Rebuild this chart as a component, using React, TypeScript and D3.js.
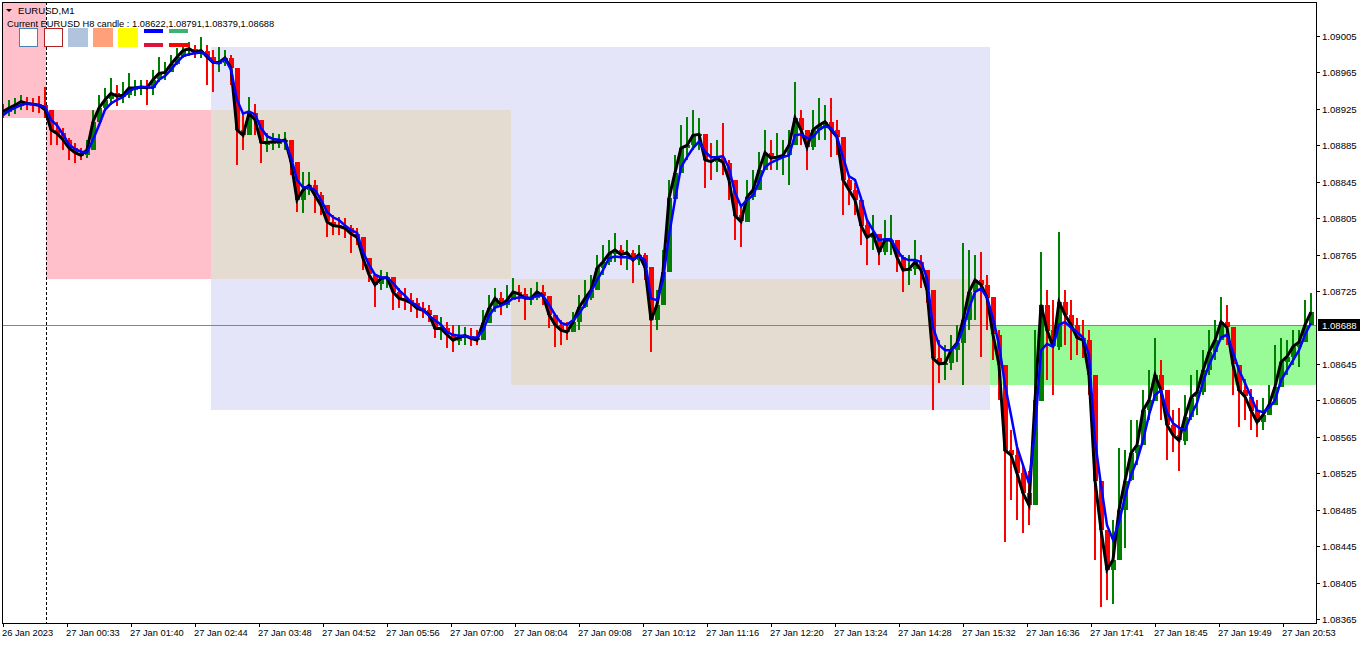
import React, { useEffect, useRef } from 'react';
import * as d3 from 'd3';

const closes = [
  1.08922, 1.08926, 1.08929, 1.08933, 1.08931, 1.08930, 1.08929, 1.08924, 1.08902, 1.08898,
  1.08891, 1.08882, 1.08877, 1.08874, 1.08880, 1.08911, 1.08926, 1.08935, 1.08942, 1.08939,
  1.08940, 1.08948, 1.08948, 1.08949, 1.08948, 1.08957, 1.08964, 1.08965, 1.08974, 1.08982,
  1.08989, 1.08991, 1.08987, 1.08989, 1.08982, 1.08976, 1.08976, 1.08981, 1.08970, 1.08902,
  1.08896, 1.08920, 1.08913, 1.08888, 1.08888, 1.08889, 1.08889, 1.08891, 1.08867, 1.08825,
  1.08836, 1.08841, 1.08830, 1.08819, 1.08801, 1.08797, 1.08796, 1.08794, 1.08788, 1.08784,
  1.08761, 1.08743, 1.08732, 1.08739, 1.08740, 1.08724, 1.08717, 1.08715, 1.08712, 1.08706,
  1.08704, 1.08699, 1.08684, 1.08684, 1.08677, 1.08671, 1.08674, 1.08676, 1.08673, 1.08671,
  1.08690, 1.08706, 1.08717, 1.08710, 1.08715, 1.08724, 1.08722, 1.08717, 1.08717, 1.08724,
  1.08720, 1.08699, 1.08688, 1.08682, 1.08680, 1.08691, 1.08707, 1.08717, 1.08726, 1.08750,
  1.08757, 1.08766, 1.08770, 1.08765, 1.08767, 1.08759, 1.08765, 1.08751, 1.08693, 1.08710,
  1.08746, 1.08827, 1.08855, 1.08882, 1.08885, 1.08896, 1.08897, 1.08869, 1.08867, 1.08871,
  1.08866, 1.08847, 1.08808, 1.08801, 1.08828, 1.08836, 1.08858, 1.08877, 1.08871, 1.08872,
  1.08874, 1.08885, 1.08915, 1.08902, 1.08883, 1.08902, 1.08907, 1.08911, 1.08902, 1.08894,
  1.08847, 1.08836, 1.08825, 1.08797, 1.08784, 1.08788, 1.08768, 1.08781, 1.08781, 1.08762,
  1.08748, 1.08749, 1.08757, 1.08748, 1.08726, 1.08651, 1.08645, 1.08646, 1.08660, 1.08668,
  1.08693, 1.08724, 1.08737, 1.08732, 1.08718, 1.08677, 1.08644, 1.08550, 1.08545, 1.08525,
  1.08503, 1.08490, 1.08605, 1.08710, 1.08682, 1.08664, 1.08713, 1.08699, 1.08688, 1.08674,
  1.08671, 1.08633, 1.08517, 1.08463, 1.08419, 1.08430, 1.08485, 1.08517, 1.08547, 1.08556,
  1.08594, 1.08605, 1.08633, 1.08616, 1.08578, 1.08567, 1.08561, 1.08587, 1.08608, 1.08614,
  1.08638, 1.08658, 1.08671, 1.08691, 1.08685, 1.08644, 1.08616, 1.08609, 1.08594, 1.08581,
  1.08589, 1.08600, 1.08620, 1.08647, 1.08653, 1.08664, 1.08669, 1.08688, 1.08702,
];

const highs = [
  1.08930, 1.08935, 1.08937, 1.08940, 1.08938, 1.08937, 1.08939, 1.08949, 1.08924, 1.08911,
  1.08904, 1.08893, 1.08888, 1.08882, 1.08891, 1.08924, 1.08940, 1.08948, 1.08959, 1.08951,
  1.08954, 1.08964, 1.08957, 1.08957, 1.08957, 1.08968, 1.08982, 1.08976, 1.08984, 1.08992,
  1.08995, 1.08998, 1.08995, 1.09004, 1.08995, 1.08990, 1.08993, 1.08990, 1.08984, 1.08957,
  1.08922, 1.08938, 1.08930, 1.08907, 1.08898, 1.08898, 1.08897, 1.08900, 1.08882, 1.08841,
  1.08856, 1.08856, 1.08847, 1.08834, 1.08814, 1.08808, 1.08806, 1.08805, 1.08797, 1.08794,
  1.08776, 1.08757, 1.08743, 1.08748, 1.08746, 1.08737, 1.08728, 1.08728, 1.08723, 1.08717,
  1.08713, 1.08710, 1.08696, 1.08696, 1.08691, 1.08688, 1.08688, 1.08685, 1.08684, 1.08682,
  1.08704, 1.08721, 1.08728, 1.08724, 1.08732, 1.08739, 1.08732, 1.08728, 1.08728, 1.08735,
  1.08732, 1.08715, 1.08695, 1.08693, 1.08691, 1.08702, 1.08721, 1.08737, 1.08743, 1.08765,
  1.08776, 1.08781, 1.08789, 1.08776, 1.08781, 1.08770, 1.08776, 1.08767, 1.08715, 1.08726,
  1.08770, 1.08847, 1.08874, 1.08907, 1.08916, 1.08924, 1.08915, 1.08891, 1.08888, 1.08891,
  1.08909, 1.08869, 1.08830, 1.08819, 1.08847, 1.08858, 1.08878, 1.08902, 1.08891, 1.08898,
  1.08891, 1.08902, 1.08954, 1.08924, 1.08902, 1.08924, 1.08937, 1.08929, 1.08937, 1.08913,
  1.08869, 1.08852, 1.08844, 1.08819, 1.08803, 1.08808, 1.08786, 1.08803, 1.08808, 1.08781,
  1.08765, 1.08765, 1.08781, 1.08765, 1.08748, 1.08693, 1.08671, 1.08666, 1.08677, 1.08688,
  1.08778, 1.08770, 1.08765, 1.08768, 1.08743, 1.08715, 1.08682, 1.08616, 1.08572, 1.08556,
  1.08534, 1.08528, 1.08682, 1.08768, 1.08726, 1.08715, 1.08790, 1.08726, 1.08715, 1.08695,
  1.08693, 1.08682, 1.08554, 1.08496, 1.08463, 1.08474, 1.08553, 1.08550, 1.08583, 1.08583,
  1.08616, 1.08638, 1.08674, 1.08649, 1.08611, 1.08594, 1.08597, 1.08611, 1.08633, 1.08638,
  1.08660, 1.08682, 1.08693, 1.08718, 1.08710, 1.08671, 1.08644, 1.08629, 1.08618, 1.08605,
  1.08608, 1.08622, 1.08666, 1.08674, 1.08671, 1.08682, 1.08682, 1.08715, 1.08723,
];

const lows = [
  1.08915, 1.08917, 1.08919, 1.08924, 1.08924, 1.08922, 1.08920, 1.08915, 1.08885, 1.08885,
  1.08880, 1.08869, 1.08866, 1.08869, 1.08871, 1.08896, 1.08913, 1.08924, 1.08929, 1.08928,
  1.08931, 1.08937, 1.08939, 1.08940, 1.08929, 1.08940, 1.08954, 1.08957, 1.08965, 1.08973,
  1.08981, 1.08983, 1.08981, 1.08981, 1.08951, 1.08944, 1.08965, 1.08972, 1.08951, 1.08863,
  1.08880, 1.08907, 1.08896, 1.08866, 1.08878, 1.08880, 1.08882, 1.08880, 1.08852, 1.08812,
  1.08811, 1.08830, 1.08811, 1.08808, 1.08784, 1.08786, 1.08786, 1.08783, 1.08767, 1.08776,
  1.08748, 1.08735, 1.08707, 1.08726, 1.08728, 1.08704, 1.08706, 1.08704, 1.08702, 1.08695,
  1.08695, 1.08691, 1.08673, 1.08671, 1.08662, 1.08658, 1.08666, 1.08666, 1.08665, 1.08666,
  1.08677, 1.08693, 1.08702, 1.08699, 1.08706, 1.08715, 1.08713, 1.08693, 1.08710, 1.08715,
  1.08710, 1.08684, 1.08664, 1.08666, 1.08671, 1.08682, 1.08682, 1.08706, 1.08715, 1.08735,
  1.08743, 1.08754, 1.08757, 1.08754, 1.08748, 1.08734, 1.08754, 1.08737, 1.08658, 1.08682,
  1.08726, 1.08797, 1.08836, 1.08863, 1.08869, 1.08880, 1.08880, 1.08838, 1.08847, 1.08856,
  1.08852, 1.08825, 1.08781, 1.08773, 1.08808, 1.08825, 1.08841, 1.08858, 1.08858, 1.08858,
  1.08852, 1.08841, 1.08896, 1.08885, 1.08858, 1.08880, 1.08891, 1.08891, 1.08872, 1.08874,
  1.08808, 1.08819, 1.08808, 1.08776, 1.08754, 1.08770, 1.08754, 1.08765, 1.08765, 1.08746,
  1.08724, 1.08732, 1.08743, 1.08728, 1.08712, 1.08594, 1.08624, 1.08627, 1.08638, 1.08647,
  1.08622, 1.08682, 1.08693, 1.08653, 1.08682, 1.08649, 1.08605, 1.08449, 1.08496, 1.08474,
  1.08459, 1.08468, 1.08539, 1.08649, 1.08627, 1.08611, 1.08660, 1.08666, 1.08649, 1.08655,
  1.08651, 1.08611, 1.08430, 1.08378, 1.08386, 1.08382, 1.08430, 1.08443, 1.08523, 1.08534,
  1.08561, 1.08583, 1.08605, 1.08583, 1.08539, 1.08548, 1.08528, 1.08556, 1.08583, 1.08589,
  1.08611, 1.08633, 1.08649, 1.08671, 1.08666, 1.08611, 1.08576, 1.08583, 1.08572, 1.08565,
  1.08572, 1.08589, 1.08605, 1.08633, 1.08633, 1.08644, 1.08642, 1.08671, 1.08688,
];

// slower moving average (blue line)
const slowMa = [
  1.08918, 1.08923, 1.08926, 1.08929, 1.08931, 1.08930, 1.08929, 1.08927, 1.08913, 1.08907,
  1.08897, 1.08886, 1.08881, 1.08878, 1.08877, 1.08891, 1.08907, 1.08924, 1.08931, 1.08935,
  1.08938, 1.08944, 1.08948, 1.08949, 1.08949, 1.08948, 1.08957, 1.08961, 1.08968, 1.08976,
  1.08983, 1.08985, 1.08986, 1.08987, 1.08984, 1.08976, 1.08975, 1.08980, 1.08968, 1.08935,
  1.08920, 1.08922, 1.08919, 1.08904, 1.08895, 1.08892, 1.08891, 1.08889, 1.08872, 1.08847,
  1.08839, 1.08839, 1.08836, 1.08825, 1.08812, 1.08806, 1.08803, 1.08797, 1.08792, 1.08789,
  1.08768, 1.08754, 1.08743, 1.08740, 1.08740, 1.08734, 1.08726, 1.08720, 1.08713, 1.08709,
  1.08704, 1.08698, 1.08693, 1.08688, 1.08680, 1.08677, 1.08676, 1.08676, 1.08674, 1.08674,
  1.08682, 1.08698, 1.08707, 1.08709, 1.08712, 1.08717, 1.08718, 1.08718, 1.08717, 1.08720,
  1.08720, 1.08710, 1.08699, 1.08690, 1.08688, 1.08693, 1.08700, 1.08710, 1.08724, 1.08737,
  1.08748, 1.08761, 1.08763, 1.08762, 1.08762, 1.08760, 1.08763, 1.08759, 1.08717, 1.08715,
  1.08737, 1.08786, 1.08825, 1.08861, 1.08872, 1.08882, 1.08889, 1.08878, 1.08872, 1.08872,
  1.08873, 1.08860, 1.08833, 1.08818, 1.08825, 1.08830, 1.08845, 1.08861, 1.08866, 1.08869,
  1.08872, 1.08874, 1.08896, 1.08897, 1.08893, 1.08894, 1.08902, 1.08906, 1.08904, 1.08894,
  1.08872, 1.08851, 1.08847, 1.08827, 1.08803, 1.08792, 1.08781, 1.08782, 1.08782, 1.08770,
  1.08761, 1.08759, 1.08759, 1.08757, 1.08739, 1.08685, 1.08666, 1.08660, 1.08660, 1.08666,
  1.08684, 1.08706, 1.08724, 1.08728, 1.08718, 1.08695, 1.08666, 1.08622, 1.08589, 1.08554,
  1.08534, 1.08514, 1.08572, 1.08660, 1.08667, 1.08664, 1.08688, 1.08691, 1.08685, 1.08680,
  1.08674, 1.08655, 1.08561, 1.08512, 1.08468, 1.08452, 1.08471, 1.08499, 1.08523, 1.08539,
  1.08561, 1.08589, 1.08611, 1.08616, 1.08592, 1.08580, 1.08575, 1.08572, 1.08589, 1.08602,
  1.08625, 1.08644, 1.08658, 1.08674, 1.08677, 1.08658, 1.08638, 1.08624, 1.08609, 1.08594,
  1.08592, 1.08597, 1.08605, 1.08627, 1.08638, 1.08649, 1.08660, 1.08677, 1.08690,
];

const barStep = 6; // bars between samples
const lastBar = 1313;

const timeLabels = [
  '26 Jan 2023', '27 Jan 00:33', '27 Jan 01:40', '27 Jan 02:44', '27 Jan 03:48', '27 Jan 04:52',
  '27 Jan 05:56', '27 Jan 07:00', '27 Jan 08:04', '27 Jan 09:08', '27 Jan 10:12', '27 Jan 11:16',
  '27 Jan 12:20', '27 Jan 13:24', '27 Jan 14:28', '27 Jan 15:32', '27 Jan 16:36', '27 Jan 17:41',
  '27 Jan 18:45', '27 Jan 19:49', '27 Jan 20:53',
];
const timeLabelBars = [0, 64, 128, 192, 256, 320, 384, 448, 512, 576, 640, 704, 768, 832, 896, 960, 1024, 1088, 1152, 1216, 1280];

const priceTicks = [
  1.09005, 1.08965, 1.08925, 1.08885, 1.08845, 1.08805, 1.08765, 1.08725,
  1.08645, 1.08605, 1.08565, 1.08525, 1.08485, 1.08445, 1.08405, 1.08365,
];

const currentPrice = 1.08688;
const h8Values = [1.08622, 1.08791, 1.08379, 1.08688];
const daySeparatorBar = 43;

// H8 candle boxes drawn by the indicator
const boxKinds = ['bear', 'range', 'body', 'body', 'bull', 'bear'];
const boxFrom = [-5, 208, 208, 508, 987, 43];
const boxTo = [43, 987, 508, 987, 1320, 208];
const boxHigh = [1.09060, 1.08993, 1.08924, 1.08738, 1.08688, 1.08924];
const boxLow = [1.08915, 1.08594, 1.08738, 1.08622, 1.08622, 1.08738];

const boxColors: Record<string, string> = {
  bear: '#ffc0cb',
  range: '#e4e5f9',
  body: '#e5dcd1',
  bull: '#98fb98',
};

const App: React.FC = () => {
  const svgRef = useRef<SVGSVGElement>(null);

  useEffect(() => {
    if (!svgRef.current) return;
    const width = 1362;
    const height = 645;
    const left = 2, top = 2, right = 1316, bottom = 623;

    const svg = d3.select(svgRef.current);
    svg.selectAll('*').remove();
    svg.attr('width', width).attr('height', height);

    svg.append('rect').attr('width', width).attr('height', height).attr('fill', '#ffffff');

    const x = d3.scaleLinear().domain([0, lastBar]).range([3, 1316]);
    const y = d3.scaleLinear().domain([1.08365, 1.09005]).range([619, 36]);

    svg.append('clipPath').attr('id', 'plot-clip')
      .append('rect').attr('x', left).attr('y', top).attr('width', right - left).attr('height', bottom - top);

    const plot = svg.append('g').attr('clip-path', 'url(#plot-clip)');

    // boxes
    const boxes = boxKinds.map((k, i) => ({ k, from: boxFrom[i], to: boxTo[i], hi: boxHigh[i], lo: boxLow[i] }));
    plot.selectAll('rect.box').data(boxes).join('rect')
      .attr('class', 'box')
      .attr('x', d => Math.round(x(d.from)))
      .attr('y', d => Math.round(y(d.hi)))
      .attr('width', d => Math.round(x(d.to)) - Math.round(x(d.from)))
      .attr('height', d => Math.round(y(d.lo)) - Math.round(y(d.hi)))
      .attr('fill', d => boxColors[d.k]);

    // current price line
    const py = Math.round(y(currentPrice)) + 0.5;
    plot.append('line')
      .attr('x1', left).attr('x2', right).attr('y1', py).attr('y2', py)
      .attr('stroke', '#778899').attr('stroke-width', 1);

    // day separator
    const sx = Math.round(x(daySeparatorBar)) + 0.5;
    plot.append('line')
      .attr('x1', sx).attr('x2', sx).attr('y1', top).attr('y2', bottom)
      .attr('stroke', '#000').attr('stroke-width', 1).attr('stroke-dasharray', '3,2');

    // candles
    const candles = closes.map((c, i) => ({
      bar: i * barStep,
      open: i > 0 ? closes[i - 1] : c,
      close: c,
      high: highs[i],
      low: lows[i],
    }));
    const colorOf = (d: { open: number; close: number }) => (d.close >= d.open ? '#008000' : '#ff0000');
    const cg = plot.append('g').attr('shape-rendering', 'crispEdges');
    cg.selectAll('rect.wick').data(candles).join('rect')
      .attr('class', 'wick')
      .attr('x', d => Math.round(x(d.bar)) - 1)
      .attr('width', 2)
      .attr('y', d => Math.round(y(Math.max(d.high, d.open, d.close))))
      .attr('height', d => Math.round(y(Math.min(d.low, d.open, d.close))) - Math.round(y(Math.max(d.high, d.open, d.close))))
      .attr('fill', colorOf);
    cg.selectAll('rect.body').data(candles).join('rect')
      .attr('class', 'body')
      .attr('x', d => Math.round(x(d.bar)) - 2)
      .attr('width', 5)
      .attr('y', d => Math.round(y(Math.max(d.open, d.close))))
      .attr('height', d => Math.max(2, Math.round(Math.abs(y(d.open) - y(d.close)))))
      .attr('fill', colorOf);

    // moving averages
    const line = d3.line<number>()
      .x((_, i) => x(i * barStep))
      .y(d => y(d));
    plot.append('path').datum(closes)
      .attr('d', line).attr('fill', 'none').attr('stroke', '#000000').attr('stroke-width', 3);
    plot.append('path').datum(slowMa)
      .attr('d', line).attr('fill', 'none').attr('stroke', '#0000ff').attr('stroke-width', 2.5);

    // frame
    svg.append('rect')
      .attr('x', left + 0.5).attr('y', top + 0.5)
      .attr('width', right - left).attr('height', bottom - top)
      .attr('fill', 'none').attr('stroke', '#000').attr('stroke-width', 1);

    const font = '"Liberation Sans", Arial, sans-serif';

    // price axis
    const ya = svg.append('g');
    ya.selectAll('line').data(priceTicks).join('line')
      .attr('x1', right).attr('x2', right + 4)
      .attr('y1', d => Math.round(y(d)) + 0.5).attr('y2', d => Math.round(y(d)) + 0.5)
      .attr('stroke', '#000');
    ya.selectAll('text').data(priceTicks).join('text')
      .attr('x', right + 6).attr('y', d => Math.round(y(d)) + 4)
      .attr('font-family', font).attr('font-size', 9.6).attr('fill', '#000')
      .text(d => d.toFixed(5));

    // current price tag
    svg.append('rect')
      .attr('x', right + 2).attr('y', py - 6.5).attr('width', 42).attr('height', 12)
      .attr('fill', '#000');
    svg.append('text')
      .attr('x', right + 6).attr('y', py + 3.5)
      .attr('font-family', font).attr('font-size', 9.6).attr('fill', '#fff')
      .text(currentPrice.toFixed(5));

    // time axis
    const xa = svg.append('g');
    xa.selectAll('line').data(timeLabelBars).join('line')
      .attr('x1', d => Math.round(x(d)) + 0.5).attr('x2', d => Math.round(x(d)) + 0.5)
      .attr('y1', bottom).attr('y2', bottom + 4)
      .attr('stroke', '#000');
    xa.selectAll('text').data(timeLabels).join('text')
      .attr('x', (_, i) => Math.round(x(timeLabelBars[i])) - 1)
      .attr('y', 636)
      .attr('font-family', font).attr('font-size', 9.3).attr('fill', '#000')
      .text(d => d);

    // header
    svg.append('path').attr('d', 'M6,9 L12,9 L9,12 Z').attr('fill', '#000');
    svg.append('text').attr('x', 18).attr('y', 14)
      .attr('font-family', font).attr('font-size', 9.6).attr('fill', '#000')
      .text('EURUSD,M1');
    svg.append('text').attr('x', 7).attr('y', 27)
      .attr('font-family', font).attr('font-size', 9.3).attr('fill', '#000')
      .text(`Current EURUSD H8 candle : ${h8Values.map(v => v.toFixed(5)).join(',')}`);

    // legend swatches
    const lg = svg.append('g');
    lg.append('rect').attr('x', 19.5).attr('y', 28.5).attr('width', 18).attr('height', 18)
      .attr('fill', '#fff').attr('stroke', '#4682b4');
    lg.append('rect').attr('x', 44.5).attr('y', 28.5).attr('width', 18).attr('height', 18)
      .attr('fill', '#fff').attr('stroke', '#b22222');
    lg.append('rect').attr('x', 68).attr('y', 28).attr('width', 20).attr('height', 19).attr('fill', '#b0c4de');
    lg.append('rect').attr('x', 93).attr('y', 28).attr('width', 20).attr('height', 19).attr('fill', '#ffa07a');
    lg.append('rect').attr('x', 118).attr('y', 28).attr('width', 20).attr('height', 19).attr('fill', '#ffff00');
    lg.append('rect').attr('x', 144).attr('y', 29).attr('width', 19).attr('height', 4).attr('fill', '#0000ff');
    lg.append('rect').attr('x', 169).attr('y', 29).attr('width', 19).attr('height', 4).attr('fill', '#3cb371');
    lg.append('rect').attr('x', 144).attr('y', 43).attr('width', 19).attr('height', 4).attr('fill', '#dc143c');
    lg.append('rect').attr('x', 169).attr('y', 43).attr('width', 20).attr('height', 4).attr('fill', '#ff0000');
  }, []);

  return <svg ref={svgRef} style={{ position: 'absolute', left: 0, top: 0, display: 'block' }}></svg>;
};

export default App;
